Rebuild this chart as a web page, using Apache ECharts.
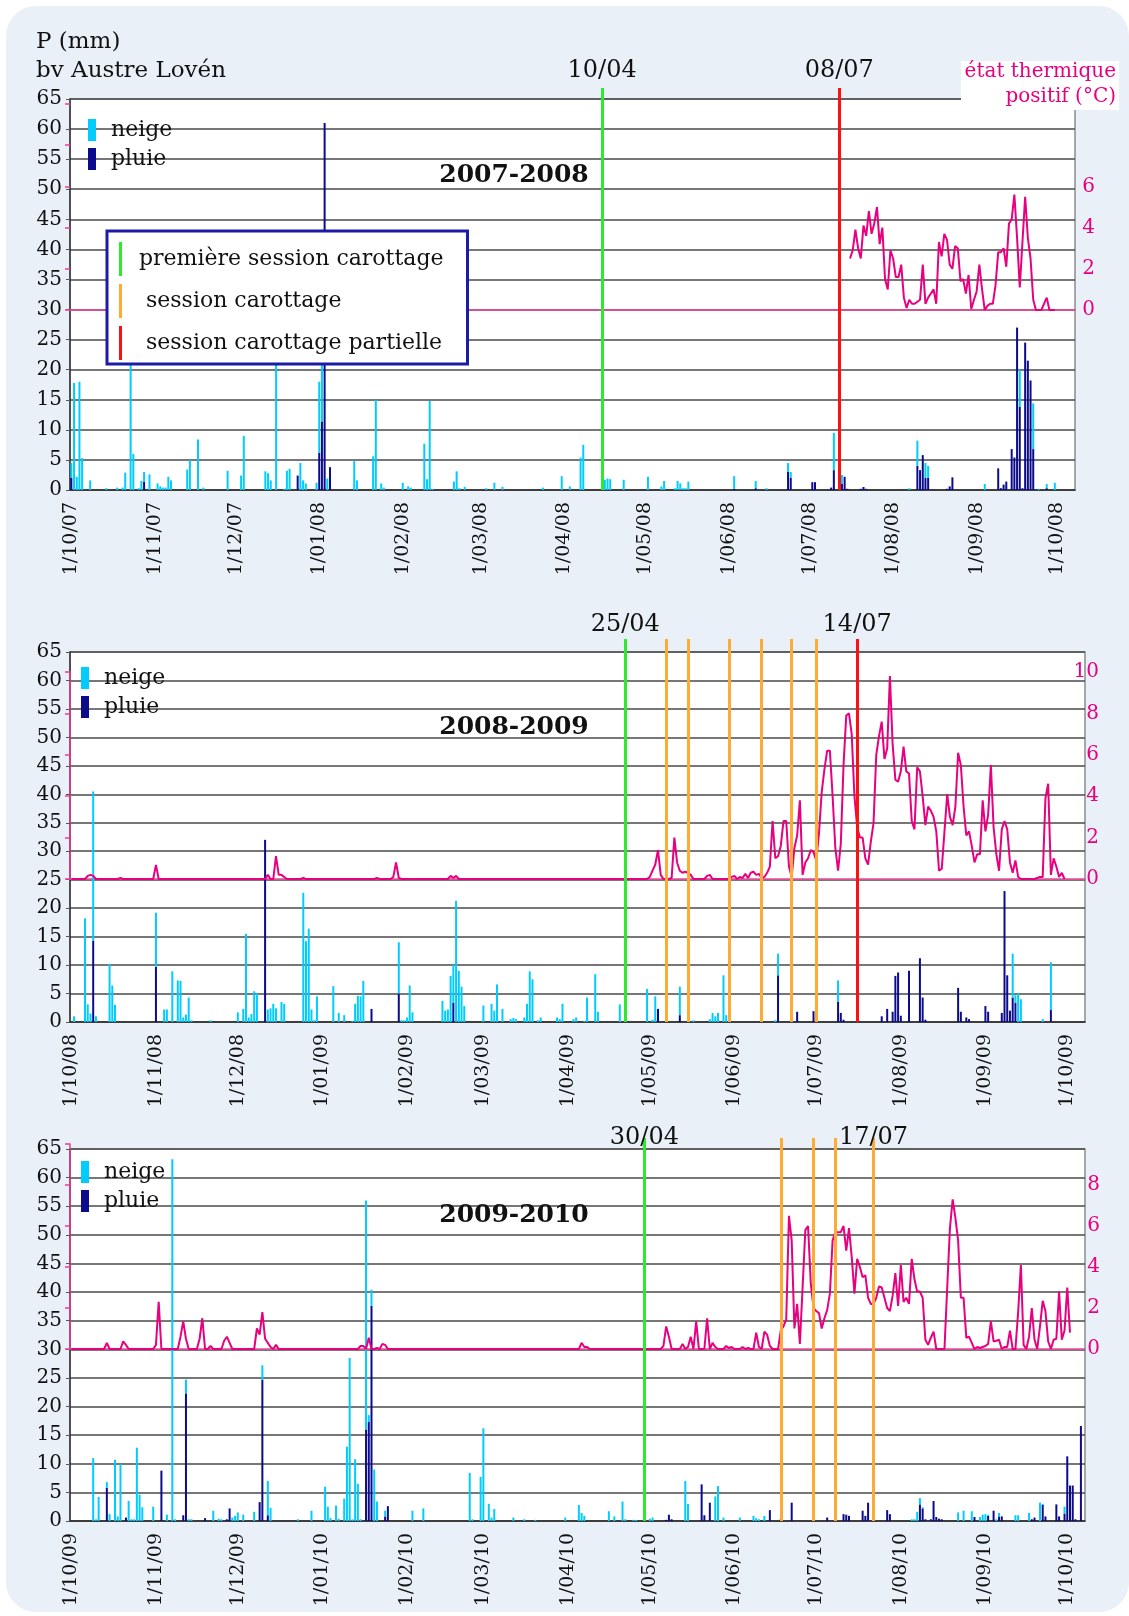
<!DOCTYPE html>
<html><head><meta charset="utf-8">
<script src="https://cdn.jsdelivr.net/npm/echarts/dist/echarts.min.js"></script>
<style>
html,body{margin:0;padding:0;background:#fff;width:1129px;height:1616px;overflow:hidden;}
#bg{position:absolute;left:6px;top:6px;width:1123px;height:1606px;border-radius:30px;background:#EAF0F8;}
#chart{position:absolute;left:0;top:0;width:1129px;height:1616px;}
</style></head><body><div id="bg"></div><div id="chart"></div>
<script>
// ---------- DATA (day index = days since 1 October of the season's first year) ----------
const SEASON_LABELS = ['2007-2008', '2008-2009', '2009-2010'];
const SEASON_STARTS = ['2007-10-01', '2008-10-01', '2009-10-01'];
const SEASON_DAYS = [373, 372, 372];

// precipitation (mm) : [day, value]
const NEIGE_0708 = [[0,2.5],[1,17.8],[2,2.2],[3,18],[4,5.3],[7,1.6],[13,0.3],[17,0.4],[19,0.4],[20,2.9],[22,24],[23,6],[25,0.3],[26,1.5],[27,1.6],[29,2.6],[32,1.1],[33,0.6],[34,0.4],[35,0.4],[36,2.2],[37,1.6],[43,3.4],[44,5],[47,8.4],[49,0.4],[58,3.2],[63,2.4],[64,9],[72,3.1],[73,2.8],[74,1.6],[76,23],[79,0.2],[80,3.2],[81,3.5],[85,4.5],[86,1.6],[87,1.1],[91,1.2],[92,11.8],[93,10.6],[95,1.9],[105,4.8],[106,1.6],[112,5.6],[113,15],[115,1.1],[116,0.4],[123,1.2],[125,0.6],[126,0.4],[131,7.7],[132,1.8],[133,14.8],[134,0.2],[142,1.4],[143,3.1],[144,0.3],[146,0.5],[154,0.3],[157,1.2],[160,0.5],[175,0.4],[182,2.3],[185,0.6],[189,5.4],[190,7.5],[197,2.3],[198,1.7],[199,1.9],[200,1.8],[205,1.7],[214,2.2],[219,0.6],[220,1.5],[224,0.3],[225,1.5],[226,1.1],[227,0.3],[228,0.3],[229,1.4],[246,2.1],[254,1.2],[258,0.3],[266,1.5],[267,1],[283,6.2],[286,1.5],[311,0.3],[314,4.2],[317,2.5],[318,2],[339,1],[352,6.2],[357,7.6],[359,0.2],[362,0.7],[365,1.2]];
const PLUIE_0708 = [[0,2],[27,1.4],[84,2.4],[92,6.2],[93,11.4],[94,61],[96,3.8],[246,0.2],[254,0.3],[266,3],[267,2],[275,1.3],[276,1.3],[282,0.4],[283,3.3],[286,1],[287,2.2],[288,0.2],[293,0.2],[294,0.5],[295,0.2],[314,4],[315,3.3],[316,5.8],[317,2],[318,2],[325,0.2],[326,0.6],[327,2.1],[344,3.6],[345,0.3],[346,0.9],[347,1.4],[349,6.8],[350,5.4],[351,27],[352,13.8],[353,0.3],[354,24.5],[355,21.5],[356,18.2],[357,6.8],[362,0.3]];

const NEIGE_0809 = [[1,1],[5,18.2],[6,3.1],[7,1.5],[8,26.2],[9,1],[14,10.2],[15,6.4],[16,3],[31,9.5],[34,2.2],[35,2.2],[37,8.9],[39,7.3],[40,7.2],[41,0.8],[42,1.3],[43,4.3],[44,0.3],[51,0.3],[61,1.7],[63,2.3],[64,15.5],[65,0.8],[66,1.4],[67,5.4],[68,5],[72,2.2],[73,2.4],[74,3.2],[75,2.4],[77,3.5],[78,3.2],[85,22.7],[86,14.2],[87,16.4],[88,2.2],[89,0.3],[90,4.5],[96,6.3],[98,1.6],[100,1.2],[103,0.2],[104,3.2],[105,4.6],[106,4.5],[107,7.2],[120,9],[121,0.3],[122,0.3],[123,0.8],[124,6.4],[125,1.7],[136,3.7],[137,2],[138,2.2],[139,8.1],[140,6.6],[141,21.3],[142,9],[143,6.2],[144,2.8],[151,2.9],[154,3.2],[155,2],[156,6.6],[158,2.3],[161,0.5],[162,0.7],[163,0.5],[166,0.8],[167,3.2],[168,8.9],[169,7.5],[171,0.3],[172,0.8],[178,0.8],[179,0.5],[180,3.2],[184,0.5],[185,0.8],[188,0.2],[189,4.3],[192,8.4],[193,1.8],[201,3.1],[211,5.8],[213,0.4],[214,4.5],[223,5],[228,0.3],[234,0.5],[235,1.6],[236,1],[237,1.6],[239,8.2],[240,1.2],[253,0.3],[258,0.3],[259,3.8],[281,3.7],[345,7.7],[346,1.3],[347,5],[348,4],[356,0.5],[359,8.4]];
const PLUIE_0809 = [[8,14.3],[31,9.7],[71,32],[110,2.3],[120,5],[140,3.4],[215,2.3],[223,1.2],[259,8.2],[266,1.8],[272,1.9],[273,0.5],[281,3.6],[282,1.6],[283,0.4],[297,1],[299,2.3],[301,1.8],[302,8.1],[303,8.7],[304,1.1],[307,9],[311,11.2],[312,4.3],[313,0.4],[325,6],[326,1.8],[328,0.8],[329,0.5],[335,2.8],[336,1.8],[341,1.6],[342,23],[343,8.2],[344,2],[345,4.3],[346,3.4],[359,2.1]];

const NEIGE_0910 = [[8,11],[9,0.3],[10,4.2],[13,1],[14,1.2],[16,10.7],[17,0.8],[18,10],[21,3.5],[22,0.3],[23,0.3],[24,12.8],[25,4.6],[26,2.4],[30,2.5],[35,1.1],[37,63.2],[38,0.3],[42,2.4],[43,0.3],[44,0.3],[52,1.8],[54,0.4],[55,0.3],[59,0.6],[60,0.9],[61,1.5],[63,1.1],[67,1.6],[70,2.5],[72,6],[73,2.3],[83,0.3],[88,1.8],[93,6],[94,2.5],[95,0.5],[97,2.7],[98,0.4],[100,3.9],[101,13],[102,28.5],[103,0.3],[104,10.8],[105,6.5],[106,0.3],[108,40],[109,1.2],[110,2.8],[111,9],[112,3.4],[115,1],[125,1.8],[129,2.2],[146,8.4],[147,0.3],[150,7.7],[151,16.2],[153,3],[154,0.6],[155,2.1],[162,0.6],[166,0.3],[170,0.2],[181,0.6],[186,2.8],[187,1.4],[188,0.9],[197,1.7],[199,0.8],[202,3.4],[203,0.3],[206,0.2],[207,0.2],[212,0.4],[213,0.6],[225,7],[226,3],[236,4.3],[237,6.1],[239,0.6],[245,0.6],[250,0.9],[251,0.5],[252,0.3],[254,0.9],[308,0.3],[309,0.3],[310,1.6],[311,1.1],[312,0.2],[325,1.5],[327,1.8],[330,1.7],[333,0.7],[334,1.1],[335,1.2],[336,0.2],[339,0.3],[340,0.6],[346,1],[347,1],[351,1.4],[355,3.2],[356,0.2],[364,1.2]];
const PLUIE_0910 = [[13,5.8],[20,0.6],[33,8.8],[41,1],[42,22.3],[49,0.5],[57,0.3],[58,2.2],[69,3.3],[70,24.7],[72,1],[108,16],[109,17.3],[110,37.6],[115,0.8],[116,2.6],[218,0.2],[219,1.1],[220,0.3],[231,6.4],[232,1],[234,3.2],[256,1.9],[260,0.4],[264,3.2],[277,0.6],[283,1.2],[284,1.1],[285,0.9],[290,1.8],[291,0.9],[292,3.2],[299,1.9],[300,1.2],[311,2.9],[312,2.2],[313,0.3],[315,0.3],[316,3.5],[317,0.7],[318,0.4],[319,0.3],[331,0.7],[336,0.9],[338,1.8],[340,0.8],[341,0.8],[352,0.3],[353,0.6],[356,2.8],[357,0.8],[361,2.9],[362,0.8],[364,1.3],[365,11.3],[366,6.2],[367,6.2],[368,0.3],[370,16.6]];

// positive thermal state (°C): recorded period [from, to]; days not listed inside it are 0
const TEMP_0708_FROM = 289;
const TEMP_0708_DAILY = [2.5,2.9,3.9,3.0,2.5,4.1,3.6,4.8,3.7,4.2,5.0,3.2,4.0,1.5,1.0,2.9,2.5,1.6,1.6,2.2,0.6,0.1,0.5,0.3,0.3,0.4,0.5,2.2,0.3,0.6,0.8,1.0,0.3,3.3,2.6,3.7,3.4,2.2,2.0,3.1,3.0,1.4,1.5,0.8,1.7,0.05,0.5,0.9,2.2,1.0,0.0,0.2,0.3,0.3,1.2,2.8,2.8,3.0,2.1,4.2,4.4,5.6,3.5,1.1,3.3,5.5,3.5,2.5,0.5,0,0,0,0.3,0.6,0,0,0];
const TEMP_0809_RANGE = [0, 364];
const TEMP_0809 = [[6,0.15],[7,0.2],[8,0.15],[18,0.05],[31,0.68],[72,0.2],[75,1.1],[76,0.2],[77,0.2],[78,0.1],[85,0.05],[112,0.05],[118,0.1],[119,0.8],[120,0.05],[139,0.15],[140,0.05],[141,0.15],[212,0.1],[213,0.4],[214,0.7],[215,1.4],[216,0.2],[220,0.05],[221,2.0],[222,0.8],[223,0.4],[224,0.3],[225,0.35],[226,0.3],[227,0.2],[233,0.15],[234,0.2],[242,0.1],[243,0.15],[245,0.1],[246,0.05],[247,0.25],[248,0.05],[249,0.3],[250,0.35],[251,0.2],[252,0.25],[253,0.05],[254,0.1],[255,0.3],[256,0.6],[257,2.8],[258,1.0],[259,1.1],[260,1.6],[261,2.8],[262,2.8],[263,0.6],[264,0.1],[265,1.5],[266,2.1],[267,3.8],[268,0.2],[269,0.8],[270,1.0],[271,1.4],[272,1.3],[273,0.9],[274,2.2],[275,4.2],[276,5.3],[277,6.2],[278,6.2],[279,4.0],[280,1.5],[281,0.4],[282,1.7],[283,5.5],[284,7.9],[285,8.0],[286,7.0],[287,4.0],[288,2.5],[289,2.0],[290,2.0],[291,1.0],[292,0.7],[293,1.8],[294,2.7],[295,6.0],[296,6.9],[297,7.6],[298,5.8],[299,6.3],[300,9.8],[301,6.5],[302,4.8],[303,4.7],[304,5.2],[305,6.4],[306,5.2],[307,5.1],[308,2.8],[309,2.4],[310,5.4],[311,5.2],[312,4.0],[313,2.6],[314,3.5],[315,3.3],[316,3.0],[317,2.3],[318,0.4],[319,0.5],[320,2.3],[321,4.1],[322,3.0],[323,2.6],[324,3.5],[325,6.1],[326,5.5],[327,3.5],[328,2.1],[329,2.3],[330,1.6],[331,0.8],[332,1.2],[333,1.2],[334,3.8],[335,2.3],[336,3.1],[337,5.5],[338,2.5],[339,1.2],[340,0.4],[341,2.4],[342,2.8],[343,2.4],[344,0.8],[345,0.3],[346,0.9],[347,0.1],[354,0.05],[355,0.1],[356,0.1],[357,3.9],[358,4.6],[359,0.2],[360,1.0],[361,0.6],[362,0.1],[363,0.3]];
const TEMP_0910_RANGE = [0, 366];
const TEMP_0910 = [[13,0.3],[19,0.37],[20,0.2],[31,0.2],[32,2.3],[40,0.6],[41,1.35],[42,0.5],[47,0.5],[48,1.5],[51,0.15],[56,0.4],[57,0.6],[58,0.3],[68,1.0],[69,0.7],[70,1.8],[71,0.5],[72,0.3],[73,0.1],[75,0.2],[106,0.15],[107,0.15],[109,0.55],[112,0.05],[114,0.25],[115,0.2],[187,0.3],[188,0.1],[189,0.1],[217,0.15],[218,1.1],[219,0.6],[224,0.25],[226,0.1],[227,0.6],[229,1.35],[233,1.5],[235,0.3],[236,0.1],[240,0.15],[241,0.05],[242,0.1],[246,0.1],[248,0.05],[251,0.8],[252,0.1],[254,0.85],[255,0.7],[256,0.15],[260,0.9],[261,1.1],[262,1.45],[263,6.5],[264,5.3],[265,1.0],[266,2.2],[267,0.25],[268,3.0],[269,5.8],[270,6.0],[271,3.2],[272,2.0],[273,1.85],[274,1.75],[275,1.0],[276,1.5],[277,1.9],[278,2.7],[279,5.3],[280,5.7],[281,5.7],[282,5.7],[283,6.0],[284,4.8],[285,5.9],[286,4.5],[287,2.7],[288,4.4],[289,4.0],[290,3.5],[291,3.6],[292,2.5],[293,2.2],[294,2.2],[295,2.5],[296,3.05],[297,3.0],[298,2.5],[299,2.0],[300,1.85],[301,2.6],[302,3.7],[303,2.1],[304,4.1],[305,2.3],[306,2.5],[307,2.2],[308,4.4],[309,3.4],[310,2.8],[311,2.8],[312,2.5],[313,0.45],[314,0.2],[315,0.55],[316,0.85],[321,3.0],[322,5.9],[323,7.3],[324,6.4],[325,5.3],[326,2.5],[327,2.5],[328,0.55],[329,0.6],[330,0.3],[332,0.1],[333,0.05],[334,0.1],[335,0.15],[336,0.25],[337,1.35],[338,0.37],[339,0.4],[340,0.45],[342,0.1],[343,0.1],[344,0.9],[347,1.8],[348,4.1],[349,0.2],[351,0.6],[352,2.0],[353,0.45],[355,1.1],[356,2.35],[357,1.85],[358,0.37],[360,0.45],[361,0.5],[362,2.8],[363,0.45],[364,0.9],[365,3.0],[366,0.8]];

// coring sessions (dates where the lines stand in the figure; label = text written above)
const SESSIONS_0708 = [{date:'2008-04-15', kind:'first', label:'10/04'}, {date:'2008-07-12', kind:'partial', label:'08/07'}];
const SESSIONS_0809 = [{date:'2009-04-22', kind:'first', label:'25/04'}, {date:'2009-05-07', kind:'full'}, {date:'2009-05-15', kind:'full'}, {date:'2009-05-30', kind:'full'}, {date:'2009-06-11', kind:'full'}, {date:'2009-06-22', kind:'full'}, {date:'2009-07-01', kind:'full'}, {date:'2009-07-16', kind:'partial', label:'14/07'}];
const SESSIONS_0910 = [{date:'2010-04-29', kind:'first', label:'30/04'}, {date:'2010-06-18', kind:'full'}, {date:'2010-06-30', kind:'full'}, {date:'2010-07-08', kind:'full'}, {date:'2010-07-22', kind:'full', label:'17/07'}];

const TEMP_MAX_LABEL = [6, 10, 8];
const SESSION_NAMES = {first:'première session carottage', full:' session carottage', partial:' session carottage partielle'};

// ---------- STYLE / LAYOUT ----------
const FONT = '"DejaVu Serif", serif';
const C_NEIGE = '#00CCFF', C_PLUIE = '#0B0B8C', C_TEMP = '#E8007F';
const SESSION_COLORS = {first:'#2EEA2E', full:'#FFAA33', partial:'#FF1010'};
const LAYOUT = [
  {left:70, width:1005, top:99, height:391, tTop:104, tH:206, mTop:88, mH:402, lblDist:5, tMargin:20, legL:88, legT:119, titleY:175, tLeftLine:false},
  {left:70, width:1015, top:652, height:370, tTop:672, tH:207, mTop:639, mH:383, lblDist:2, tMargin:14, legL:81, legT:667, titleY:727, tLeftLine:true},
  {left:70, width:1015, top:1149, height:372, tTop:1144, tH:205, mTop:1138, mH:383, lblDist:-12, tMargin:15, legL:81, legT:1161, titleY:1215, tLeftLine:true}
];

function buildCats(startISO, n) {
  const t0 = Date.parse(startISO + 'T00:00:00Z'), out = [];
  for (let i = 0; i < n; i++) out.push(new Date(t0 + i * 86400000).toISOString().slice(0, 10));
  return out;
}
function fillBars(n, pairs) { const a = new Array(n).fill(0); pairs.forEach(([d, v]) => { a[d] = v; }); return a; }
function fillTemp(n, range, pairs) {
  const a = new Array(n).fill(null);
  for (let i = range[0]; i <= range[1]; i++) a[i] = 0;
  pairs.forEach(([d, v]) => { a[d] = v; });
  return a;
}
const TEMP_0708 = TEMP_0708_DAILY.map((v, i) => [TEMP_0708_FROM + i, v]);
const TEMP_0708_RANGE = [TEMP_0708_FROM, TEMP_0708_FROM + TEMP_0708_DAILY.length - 1];

const SEASONS = [
  {neige:NEIGE_0708, pluie:PLUIE_0708, temp:TEMP_0708, tRange:TEMP_0708_RANGE, sessions:SESSIONS_0708},
  {neige:NEIGE_0809, pluie:PLUIE_0809, temp:TEMP_0809, tRange:TEMP_0809_RANGE, sessions:SESSIONS_0809},
  {neige:NEIGE_0910, pluie:PLUIE_0910, temp:TEMP_0910, tRange:TEMP_0910_RANGE, sessions:SESSIONS_0910}
];

const isMonthStart = (idx, val) => String(val).slice(8) === '01';
const fmtDate = v => { const p = String(v).split('-'); return (+p[2]) + '/' + p[1] + '/' + p[0].slice(2); };

const option = {animation:false, backgroundColor:'transparent', grid:[], xAxis:[], yAxis:[], series:[], legend:[], graphic:[]};

SEASONS.forEach((S, i) => {
  const L = LAYOUT[i], n = SEASON_DAYS[i];
  const cats = buildCats(SEASON_STARTS[i], n);
  const gx = 3 * i, gy = 4 * i;
  option.grid.push({left:L.left, top:L.top, width:L.width, height:L.height, show:true, backgroundColor:'#fff', borderColor:'#8c8c8c', borderWidth:1.5});
  option.grid.push({left:L.left, top:L.tTop, width:L.width, height:L.tH});
  option.grid.push({left:L.left, top:L.mTop, width:L.width, height:L.mH});
  // x axes
  option.xAxis.push({type:'category', gridIndex:gx, data:cats, boundaryGap:true,
    axisLine:{lineStyle:{color:'#333', width:1.5}},
    axisTick:{alignWithLabel:true, interval:isMonthStart, length:5, lineStyle:{color:'#333'}},
    axisLabel:{interval:isMonthStart, rotate:90, formatter:fmtDate, fontFamily:FONT, fontSize:19, color:'#111', margin:12},
    splitLine:{show:false}});
  option.xAxis.push({type:'category', gridIndex:gx + 1, data:cats, boundaryGap:true,
    axisLine:{lineStyle:{color:'#F0489E', width:1.5}},
    axisTick:{alignWithLabel:true, interval:isMonthStart, length:6, lineStyle:{color:'#333'}},
    axisLabel:{show:false}, splitLine:{show:false}});
  option.xAxis.push({type:'category', gridIndex:gx + 2, data:cats, boundaryGap:true, show:false});
  // y axes
  option.yAxis.push({type:'value', gridIndex:gx, min:0, max:65, interval:5,
    axisLine:{show:true, lineStyle:{color:'#333', width:1.5}},
    axisTick:{show:true, length:4, lineStyle:{color:'#555'}},
    axisLabel:{fontFamily:FONT, fontSize:20, color:'#111', margin:8},
    splitLine:{show:true, lineStyle:{color:'#4a4a4a', width:1.5}}});
  const maxLbl = TEMP_MAX_LABEL[i];
  option.yAxis.push({type:'value', gridIndex:gx + 1, position:'right', min:0, max:10, interval:2,
    axisLine:{show:false}, axisTick:{show:false}, splitLine:{show:false},
    axisLabel:{fontFamily:FONT, fontSize:20, color:C_TEMP, align:'right', margin:L.tMargin,
      formatter: v => (v <= maxLbl ? String(v) : '')}});
  option.yAxis.push({type:'value', gridIndex:gx + 1, position:'left', min:0, max:10, interval:2,
    axisLine:{show:L.tLeftLine, lineStyle:{color:'#EE3C96', width:1.5}},
    axisTick:{show:true, length:5, lineStyle:{color:'#EE3C96', width:1.5}},
    axisLabel:{show:false}, splitLine:{show:false}});
  option.yAxis.push({type:'value', gridIndex:gx + 2, min:0, max:1, show:false});
  // bars (pluie at the bottom, neige stacked on top)
  option.series.push({type:'bar', name:'pluie', xAxisIndex:gx, yAxisIndex:gy, stack:'p' + i, barWidth:2,
    data:fillBars(n, S.pluie), itemStyle:{color:C_PLUIE}, silent:true});
  option.series.push({type:'bar', name:'neige', xAxisIndex:gx, yAxisIndex:gy, stack:'p' + i, barWidth:2,
    data:fillBars(n, S.neige), itemStyle:{color:C_NEIGE}, silent:true});
  // temperature line
  option.series.push({type:'line', name:'temp' + i, xAxisIndex:gx + 1, yAxisIndex:gy + 1,
    data:fillTemp(n, S.tRange, S.temp), symbol:'none', connectNulls:false, silent:true,
    lineStyle:{color:C_TEMP, width:2}, itemStyle:{color:C_TEMP}, z:3});
  // coring sessions
  ['first', 'full', 'partial'].forEach(kind => {
    const items = S.sessions.filter(s => s.kind === kind);
    option.series.push({type:'line', name:SESSION_NAMES[kind], xAxisIndex:gx + 2, yAxisIndex:gy + 3, data:[],
      color:SESSION_COLORS[kind], itemStyle:{color:SESSION_COLORS[kind]}, lineStyle:{color:SESSION_COLORS[kind]}, z:4,
      markLine:{silent:true, animation:false, symbol:['none', 'none'],
        lineStyle:{color:SESSION_COLORS[kind], width:3, type:'solid'},
        label:{show:false},
        data:items.map(s => ({xAxis:s.date,
          label:{show:!!s.label, formatter:s.label || '', position:'end', distance:L.lblDist,
            fontFamily:FONT, fontSize:24, color:'#111'}}))}});
  });
  // neige / pluie legend
  option.legend.push({orient:'vertical', left:L.legL, top:L.legT, padding:0, icon:'rect', itemWidth:8, itemHeight:22, itemGap:7,
    selectedMode:false, data:['neige', 'pluie'],
    textStyle:{fontFamily:FONT, fontSize:22, color:'#111', padding:[0, 0, 0, 10]}});
  // season title
  option.graphic.push({type:'text', x:514, y:L.titleY, z:20,
    style:{text:SEASON_LABELS[i], font:'bold 25px ' + FONT, fill:'#111', align:'center', verticalAlign:'middle'}});
});

// coring legend (first panel)
option.legend.push({orient:'vertical', left:107, top:231, icon:'rect', itemWidth:3, itemHeight:34, itemGap:8,
  selectedMode:false, backgroundColor:'#fff', borderColor:'#1B1BA6', borderWidth:3, padding:[11, 24, 4, 12], z:10,
  data:['first', 'full', 'partial'].map(k => ({name:SESSION_NAMES[k], itemStyle:{color:SESSION_COLORS[k]}})),
  textStyle:{fontFamily:FONT, fontSize:22, color:'#111', padding:[0, 0, 0, 12]}});

// header texts
option.graphic.push(
  {type:'text', x:36, y:42, z:20, style:{text:'P (mm)', font:'23px ' + FONT, fill:'#111', verticalAlign:'middle'}},
  {type:'text', x:36, y:71, z:20, style:{text:'bv Austre Lovén', font:'23px ' + FONT, fill:'#111', verticalAlign:'middle'}},
  {type:'rect', z:19, shape:{x:961, y:61, width:158, height:49}, style:{fill:'#fff'}},
  {type:'text', x:1116, y:72, z:20, style:{text:'état thermique', font:'20px ' + FONT, fill:C_TEMP, align:'right', verticalAlign:'middle'}},
  {type:'text', x:1116, y:97, z:20, style:{text:'positif (°C)', font:'20px ' + FONT, fill:C_TEMP, align:'right', verticalAlign:'middle'}}
);

const chart = echarts.init(document.getElementById('chart'), null, {renderer:'canvas'});
chart.setOption(option);
</script></body></html>
